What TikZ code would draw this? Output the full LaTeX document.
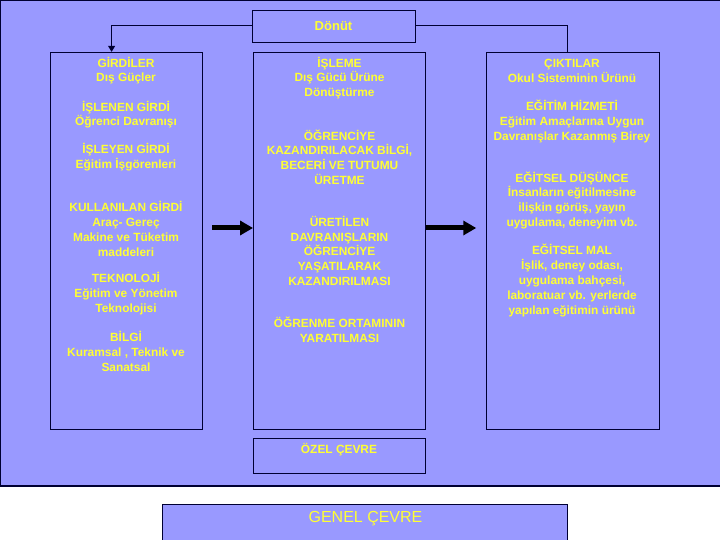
\documentclass[tikz,border=0pt]{standalone}
\usepackage{fontspec}
\setmainfont{Liberation Sans}
\usepackage{xcolor}
\usepackage{tikz}
\usetikzlibrary{arrows.meta}
\definecolor{panel}{HTML}{9999FF}
\definecolor{ink}{HTML}{FFFF33}
\definecolor{rim}{HTML}{000033}

\begin{document}
\begin{tikzpicture}[x=1pt,y=-1pt,
    box/.style={draw=rim,line width=0.9pt,fill=panel,inner sep=0pt},
    lbl/.style={text=ink,font=\bfseries\fontsize{11.9}{14.8}\selectfont,align=center,inner sep=0pt},
    link/.style={draw=rim,line width=1pt},
    bigarrow/.style={draw=black,line width=5pt,-{Triangle[length=13pt,width=14pt]}}]
  \clip (0,0) rectangle (720,540);
  % sistem cercevesi
  \fill[panel] (0,0) rectangle (720,486);
  \draw[rim,line width=1.2pt] (720,0) -- (0,0) -- (0,486) -- (720,486);

  \node[box,minimum width=163pt,minimum height=32pt,text=ink,font=\bfseries\fontsize{13}{15}\selectfont] (donut) at (333.5,26) {Dönüt};
  \node[box,minimum width=152pt,minimum height=377pt] (girdi) at (126,240.8) {};
  \node[box,minimum width=172pt,minimum height=377pt] (isleme) at (339.5,240.8) {};
  \node[box,minimum width=173.5pt,minimum height=377pt] (cikti) at (572.75,240.8) {};
  \node[box,minimum width=172pt,minimum height=35pt] (ozel) at (339.5,455.8) {};
  \node[box,minimum width=405pt,minimum height=80pt] (genel) at (365,544.3) {};

  % metinler
  \foreach \nm/\cx/\cy/\txt in {
      gir1/126/70.7/{GİRDİLER\\Dış Güçler},
      gir2/126/114.7/{İŞLENEN GİRDİ\\Öğrenci Davranışı},
      gir3/126/157/{İŞLEYEN GİRDİ\\Eğitim İşgörenleri},
      gir4/126/228.8/{KULLANILAN GİRDİ\\Araç- Gereç\\Makine ve Tüketim\\maddeleri},
      gir5/126/293.8/{TEKNOLOJİ\\Eğitim ve Yönetim\\Teknolojisi},
      gir6/126/351.2/{BİLGİ\\Kuramsal , Teknik ve\\Sanatsal},
      isl1/339.5/78/{İŞLEME\\Dış Gücü Ürüne\\Dönüştürme},
      isl2/339.5/157.2/{ÖĞRENCİYE\\KAZANDIRILACAK BİLGİ,\\BECERİ VE TUTUMU\\ÜRETME},
      isl3/339.5/250.8/{ÜRETİLEN\\DAVRANIŞLARIN\\ÖĞRENCİYE\\YAŞATILARAK\\KAZANDIRILMASI},
      isl4/339.5/330/{ÖĞRENME ORTAMININ\\YARATILMASI},
      cik1/572/70.7/{ÇIKTILAR\\Okul Sisteminin Ürünü},
      cik2/572/121.3/{EĞİTİM HİZMETİ\\Eğitim Amaçlarına Uygun\\Davranışlar Kazanmış Birey},
      cik3/572/200.3/{EĞİTSEL DÜŞÜNCE\\İnsanların eğitilmesine\\ilişkin görüş, yayın\\uygulama, deneyim vb.},
      cik4/572/280.5/{EĞİTSEL MAL\\İşlik, deney odası,\\uygulama bahçesi,\\laboratuar vb. yerlerde\\yapılan eğitimin ürünü}} {
    \node[lbl] (\nm) at (\cx,\cy) {\txt};
  }
  \node[lbl] (ozeltxt) at (339,450) {ÖZEL ÇEVRE};
  \node[lbl,font=\fontsize{16}{19}\selectfont] (geneltxt) at (365.5,518.5) {GENEL ÇEVRE};

  % baglantilar
  \draw[link,-{Triangle[length=6pt,width=7pt]}] (donut.west) -| ([xshift=-14.4pt]girdi.north);
  \draw[link] (donut.east) -| ([xshift=-5.3pt]cikti.north);
  \draw[bigarrow] ([xshift=10pt,yshift=12.8pt]girdi.east) -- ([yshift=12.8pt]isleme.west);
  \draw[bigarrow] ([yshift=12.8pt]isleme.east) -- ([xshift=-9.3pt,yshift=12.8pt]cikti.west);
\end{tikzpicture}
\end{document}
